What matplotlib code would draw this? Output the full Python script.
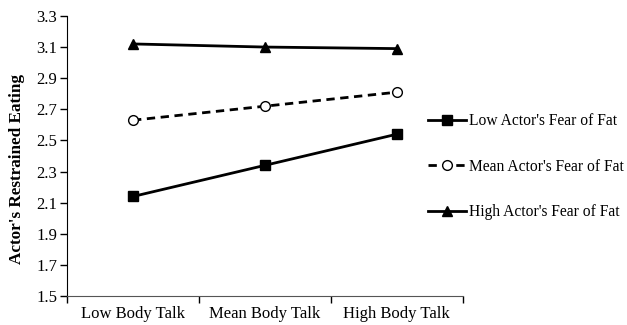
import matplotlib.pyplot as plt
from matplotlib.ticker import FixedLocator

plt.rcParams['font.family'] = ['Liberation Serif', 'DejaVu Serif']

talk = ["Low Body Talk", "Mean Body Talk", "High Body Talk"]
low_fear = [2.14, 2.34, 2.54]
mean_fear = [2.63, 2.72, 2.81]
high_fear = [3.12, 3.10, 3.09]
yticks = [1.5, 1.7, 1.9, 2.1, 2.3, 2.5, 2.7, 2.9, 3.1, 3.3]

fig = plt.figure(figsize=(6.27, 3.25), dpi=100)
ax = fig.add_axes([0.107, 0.089, 0.631, 0.862])

x = range(len(talk))
ax.plot(x, low_fear, color="black", lw=2, marker="s", ms=7, label="Low Actor's Fear of Fat")
ax.plot(x, mean_fear, color="black", lw=2, ls=(0, (3, 2)), marker="o", ms=7,
        mfc="white", mew=1, label="Mean Actor's Fear of Fat")
ax.plot(x, high_fear, color="black", lw=2, marker="^", ms=7, label="High Actor's Fear of Fat")

ax.set_xlim(-0.5, 2.5)
ax.set_ylim(1.5, 3.3)
ax.set_yticks(yticks)
ax.set_yticklabels([f"{v:.1f}" for v in yticks], fontsize=12)
ax.set_xticks(list(x))
ax.set_xticklabels(talk, fontsize=12)
ax.tick_params(axis="x", length=0, pad=7)
ax.xaxis.set_minor_locator(FixedLocator([-0.5, 0.5, 1.5, 2.5]))
ax.tick_params(axis="x", which="minor", length=5, width=1)
ax.tick_params(axis="y", length=5, width=1, pad=2)

ax.spines["top"].set_visible(False)
ax.spines["right"].set_visible(False)
ax.spines["bottom"].set_color("#555555")
ax.set_ylabel("Actor's Restrained Eating", fontsize=12.3, fontweight="bold")
ax.yaxis.set_label_coords(-0.106, 0.454)

fig.legend(loc="center left", bbox_to_anchor=(0.661, 0.487), frameon=False,
           fontsize=11.2, labelspacing=1.9, handlelength=2.4, handletextpad=0.2)

plt.savefig("out.png", dpi=100)
